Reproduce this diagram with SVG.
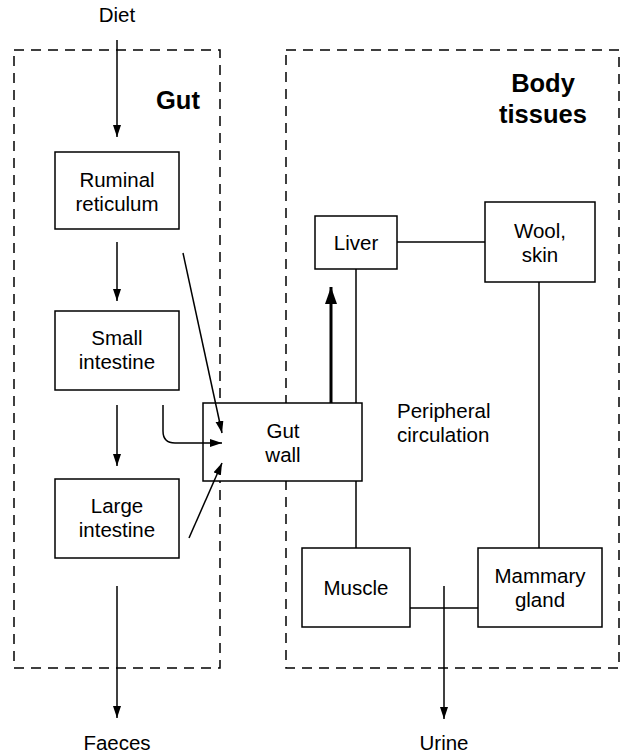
<svg xmlns="http://www.w3.org/2000/svg" width="622" height="755" viewBox="0 0 622 755">
<style>
text{font-family:"Liberation Sans",Arial,sans-serif;font-size:20.5px;fill:#000;text-anchor:middle}
.h{font-weight:bold;font-size:25.5px}
.box{fill:#fff;stroke:#000;stroke-width:1.5}
.dash{fill:none;stroke:#000;stroke-width:1.5;stroke-dasharray:10,7}
.c{fill:none;stroke:#000;stroke-width:1.5}
.a{marker-end:url(#ah)}
.thick{fill:none;stroke:#000;stroke-width:3;marker-end:url(#ahb)}
</style>
<defs>
<marker id="ah" markerUnits="userSpaceOnUse" markerWidth="14" markerHeight="10" refX="12" refY="4" orient="auto"><path d="M0,0 L12,4 L0,8 z" fill="#000"/></marker>
<marker id="ahb" markerUnits="userSpaceOnUse" markerWidth="20" markerHeight="14" refX="17" refY="6" orient="auto"><path d="M0,0 L17,6 L0,12 z" fill="#000"/></marker>
</defs>
<g id="gut-region"><rect class="dash" x="14" y="50" width="206" height="618"/><text class="h" x="156" y="109" style="text-anchor:start">Gut</text></g>
<g id="body-region"><rect class="dash" x="286" y="50" width="333" height="618"/><text class="h" x="543" y="92">Body</text><text class="h" x="543" y="123">tissues</text></g>
<g id="diet"><text x="117" y="22">Diet</text></g>
<g id="faeces"><text x="117" y="750">Faeces</text></g>
<g id="urine"><text x="444" y="750">Urine</text></g>
<g id="ruminal"><rect class="box" x="55" y="152" width="124" height="77"/><text x="117" y="186.5">Ruminal</text><text x="117" y="210.5">reticulum</text></g>
<g id="small"><rect class="box" x="55" y="311" width="124" height="79"/><text x="117" y="345">Small</text><text x="117" y="369">intestine</text></g>
<g id="large"><rect class="box" x="55" y="479" width="124" height="79"/><text x="117" y="513">Large</text><text x="117" y="537">intestine</text></g>
<g id="gutwall"><rect class="box" x="203" y="403" width="159" height="78"/><text x="283" y="438">Gut</text><text x="283" y="462">wall</text></g>
<g id="liver"><rect class="box" x="315" y="216" width="82" height="53"/><text x="356" y="250">Liver</text></g>
<g id="wool"><rect class="box" x="485" y="202" width="110" height="80"/><text x="540" y="238">Wool,</text><text x="540" y="262">skin</text></g>
<g id="peripheral"><text x="397" y="418" style="text-anchor:start">Peripheral</text><text x="397" y="442" style="text-anchor:start">circulation</text></g>
<g id="muscle"><rect class="box" x="302" y="548" width="108" height="79"/><text x="356" y="595">Muscle</text></g>
<g id="mammary"><rect class="box" x="478" y="548" width="124" height="79"/><text x="540" y="583">Mammary</text><text x="540" y="607">gland</text></g>
<g id="connectors">
<line class="c a" x1="117" y1="40" x2="117" y2="137"/>
<line class="c a" x1="117" y1="242" x2="117" y2="301"/>
<line class="c a" x1="117" y1="405" x2="117" y2="466"/>
<line class="c a" x1="117" y1="586" x2="117" y2="718"/>
<line class="c a" x1="183" y1="253" x2="222" y2="433"/>
<path class="c a" d="M163,405 V431 Q163,443 175,443 H222"/>
<line class="c a" x1="189" y1="538" x2="222" y2="463"/>
<line class="thick" x1="331" y1="403" x2="331" y2="287"/>
<line class="c" x1="356" y1="269" x2="356" y2="403"/>
<line class="c" x1="356" y1="481" x2="356" y2="548"/>
<line class="c" x1="397" y1="242" x2="485" y2="242"/>
<line class="c" x1="539" y1="282" x2="539" y2="548"/>
<line class="c" x1="410" y1="608" x2="478" y2="608"/>
<line class="c a" x1="444" y1="586" x2="444" y2="719"/>
</g>
</svg>
